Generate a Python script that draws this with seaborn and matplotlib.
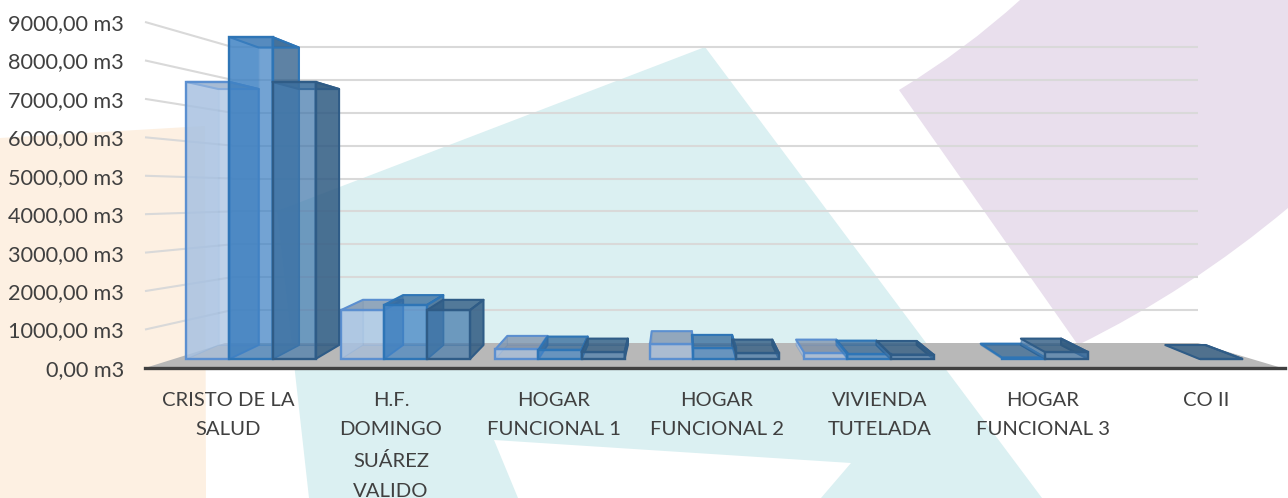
import numpy as np
import pandas as pd
import matplotlib
matplotlib.use("Agg")
import matplotlib.pyplot as plt
from matplotlib.patches import Polygon, PathPatch
from matplotlib.path import Path
from matplotlib.colors import to_rgba
import seaborn as sns

categories = ["CRISTO DE LA SALUD", "H.F. DOMINGO SUÁREZ VALIDO", "HOGAR FUNCIONAL 1",
              "HOGAR FUNCIONAL 2", "VIVIENDA TUTELADA", "HOGAR FUNCIONAL 3", "CO II"]
tick_labels = ["CRISTO DE LA\nSALUD", "H.F.\nDOMINGO\nSUÁREZ\nVALIDO", "HOGAR\nFUNCIONAL 1",
               "HOGAR\nFUNCIONAL 2", "VIVIENDA\nTUTELADA", "HOGAR\nFUNCIONAL 3", "CO II"]
series_names = ["Serie 1", "Serie 2", "Serie 3"]
serie_1 = [7590, 1340, 270, 410, 160, np.nan, np.nan]
serie_2 = [8820, 1480, 250, 300, 130, 40, np.nan]
serie_3 = [7590, 1340, 190, 160, 120, 190, 0]
y_ticks = [0, 1000, 2000, 3000, 4000, 5000, 6000, 7000, 8000, 9000]

W, H = 1288, 498
sns.set_theme(style="white")
plt.rcParams["font.family"] = ["Lato", "DejaVu Sans"]

fig = plt.figure(figsize=(W / 100, H / 100), dpi=100)
fig.patch.set_facecolor("white")

# backdrop in pixel space
bg = fig.add_axes([0, 0, 1, 1], zorder=0)
bg.set_xlim(0, W)
bg.set_ylim(H, 0)
bg.axis("off")
bg.add_patch(Polygon([(0, 138), (205, 126), (206, 498), (0, 498)], fc="#fdf0e2", ec="none"))
bg.add_patch(Polygon([(277, 211), (705, 47), (1042, 498), (821, 498), (851, 463), (494, 440),
                      (518, 498), (309, 498)], fc="#dbf0f2", ec="none"))
purple = Path([(899, 90), (965, 50), (1020, 0), (1288, 0), (1288, 208), (1190, 290), (1078, 345), (899, 90)],
              [Path.MOVETO, Path.CURVE3, Path.CURVE3, Path.LINETO, Path.LINETO, Path.CURVE3, Path.CURVE3,
               Path.CLOSEPOLY])
bg.add_patch(PathPatch(purple, fc="#e9dfed", ec="none"))

wall_base, wall_scale = 343, 32.9 / 1000
front_base, front_scale = 368, 38.45 / 1000
grid_c = "#d9d9d9"
for v in y_ticks[1:]:
    yb = wall_base - v * wall_scale
    bg.plot([145, 232], [front_base - v * front_scale, yb], color=grid_c, lw=1.5, solid_capstyle="butt")
    bg.plot([232, 1198], [yb, yb], color=grid_c, lw=1.5, solid_capstyle="butt")
bg.add_patch(Polygon([(145, 368), (225, 343), (1198, 343), (1282, 368)], fc="#b8b8b8", ec="none"))

# value and category axis
ax2 = fig.add_axes([145 / W, (H - 368) / H, (1285 - 145) / W, (368 - 22) / H], zorder=1)
ax2.patch.set_alpha(0)
ax2.set_xlim((145 - 228) / 163, (1285 - 228) / 163)
ax2.set_ylim(0, 9000)
ax2.set_yticks(y_ticks)
ax2.set_yticklabels([f"{v},00 m3" for v in y_ticks])
ax2.set_xticks(range(len(tick_labels)))
ax2.set_xticklabels(tick_labels, linespacing=1.92)
ax2.tick_params(axis="y", length=0, pad=15, labelsize=15.6, labelcolor="#404040")
ax2.tick_params(axis="x", length=0, pad=17, labelsize=14.6, labelcolor="#404040")
for s in ["top", "left", "right"]:
    ax2.spines[s].set_visible(False)
ax2.spines["bottom"].set_color("#404040")
ax2.spines["bottom"].set_linewidth(2.4)

# bars
ax = fig.add_axes([173.75 / W, (H - 359) / H, (1255.25 - 173.75) / W, 359 / H], zorder=2)
ax.patch.set_alpha(0)
df = pd.DataFrame({
    "categoria": categories * 3,
    "serie": np.repeat(series_names, len(categories)),
    "valor": serie_1 + serie_2 + serie_3,
})
sns.barplot(data=df, x="categoria", y="valor", hue="serie", order=categories, hue_order=series_names,
            palette=["#a7c1e1", "#3e81c3", "#4278ab"], width=0.835, gap=0, saturation=1,
            legend=False, ax=ax)
ax.set_xlim(-0.5, 6.5)
ax.set_ylim(0, 359 / 36.5 * 1000)
ax.axis("off")

VX, VY, TX, TY = 676, 175, 0.0654, 0.076
styles = [
    dict(front=("#a7c1e1", .60), left=("#a7c1e1", .60), back=("#a7c1e1", .35), floor=("#8fa9cc", .12),
         side=("#5f7fa8", .50), top=("#72869f", .62), edge="#5b8fd0"),
    dict(front=("#3e81c3", .60), left=("#3e81c3", .60), back=("#3e81c3", .30), floor=("#2e75b6", .10),
         side=("#1f4e79", .62), top=("#2a5f90", .62), edge="#2e75b6"),
    dict(front=("#4278ab", .60), left=("#4278ab", .62), back=("#4278ab", .30), floor=("#3a72a6", .12),
         side=("#2f5a80", .80), top=("#2f5a80", .72), edge="#2f5c87"),
]


def back(p):
    return (p[0] + TX * (VX - p[0]), p[1] + TY * (VY - p[1]))


fig.canvas.draw()
for i, (cont, st) in enumerate(zip(ax.containers, styles)):
    for bar in cont:
        h = bar.get_height()
        if not np.isfinite(h):
            bar.set_visible(False)
            continue
        x0 = bar.get_x()
        w = bar.get_width()
        (l, b), (r, t) = ax.transData.transform([(x0, 0), (x0 + w, h)])
        b, t = H - b, H - t
        fl, fr, tl, tr = (l, b), (r, b), (l, t), (r, t)
        bl, br, ul, ur = back(fl), back(fr), back(tl), back(tr)
        z = 10 * i
        faded = to_rgba(st["edge"], .22)
        faces = [
            ([bl, br, ur, ul], st["back"], faded, 0.8, z + 1),
            ([fl, fr, br, bl], st["floor"], faded, 0.8, z + 2),
            ([fl, bl, ul, tl], st["left"], faded, 0.8, z + 2),
            ([fr, br, ur, tr], st["side"], st["edge"], 1.5, z + 3),
            ([tl, tr, ur, ul], st["top"], st["edge"], 1.5, z + 4),
        ]
        for pts, fc, ec, lw, zz in faces:
            ax.add_patch(Polygon(pts, closed=True, fc=to_rgba(*fc), ec=ec, lw=lw,
                                 transform=bg.transData, clip_on=False, zorder=zz, joinstyle="round"))
        bar.set_facecolor(to_rgba(*st["front"]))
        bar.set_edgecolor(st["edge"])
        bar.set_linewidth(1.7)
        bar.set_zorder(z + 5)
        bar.set_clip_on(False)
ax.set_xlim(-0.5, 6.5)
ax.set_ylim(0, 359 / 36.5 * 1000)

fig.savefig("out.png", dpi=100)
